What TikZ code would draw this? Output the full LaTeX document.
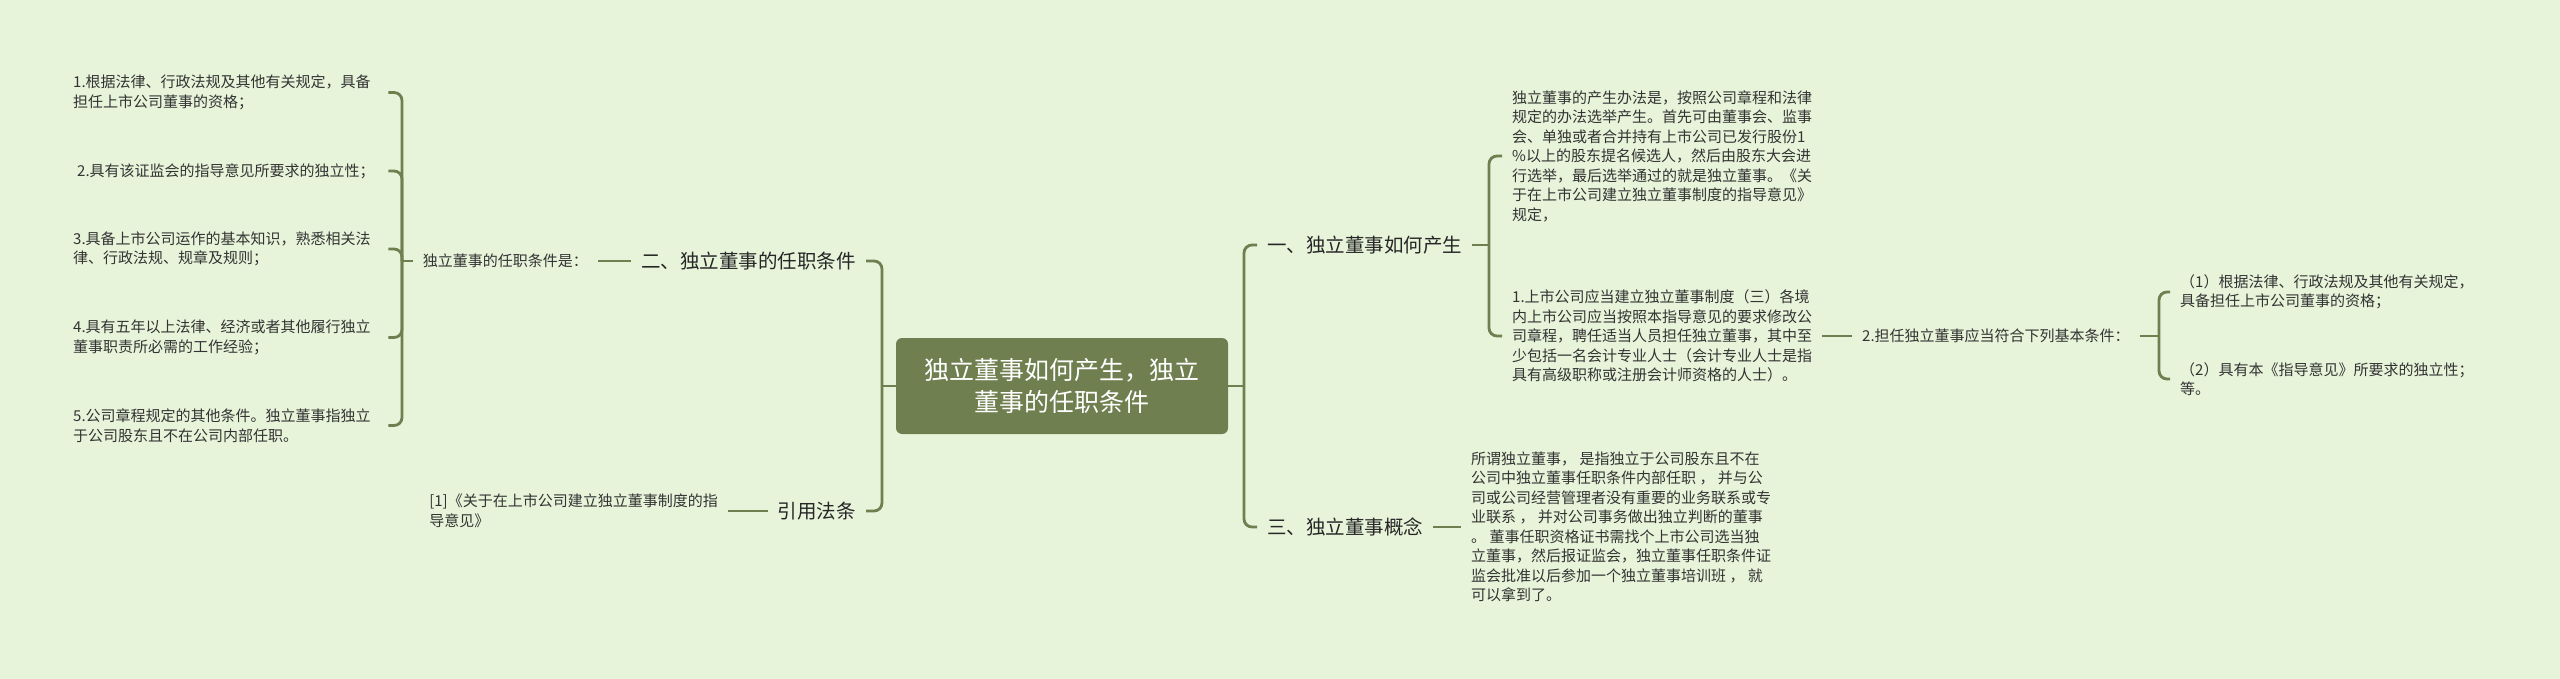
\documentclass[tikz,border=0pt]{standalone}
\usepackage{fontspec}
\usepackage{xcolor}
\usepackage{tikz}
\newfontfamily\cjk{Noto Sans CJK SC}
\definecolor{bgc}{HTML}{E7F4DA}
\definecolor{mapline}{HTML}{6F7F4F}
\definecolor{txt}{HTML}{333333}

\begin{document}
\begin{tikzpicture}[x=1pt,y=-1pt,
  link/.style={draw=mapline,line width=2.8pt,rounded corners=8pt},
  leaf/.style={font=\cjk\fontsize{15}{19.5}\selectfont,text=txt,align=left,inner xsep=10pt,inner ysep=0pt},
  sec/.style={font=\cjk\fontsize{19.5}{24}\selectfont,text=black!85,inner xsep=10pt,inner ysep=0pt},
  rootbox/.style={fill=mapline,rounded corners=6pt,text=white,font=\cjk\fontsize{25}{32}\selectfont,align=center,minimum width=332pt,minimum height=96pt}]
\fill[bgc] (0,0) rectangle (2560,679);
\useasboundingbox (0,0) rectangle (2560,679);

\node[rootbox] (root) at (1062,386) {独立董事如何产生，独立\\董事的任职条件};

\node[sec,anchor=east] (sec2) at (866,261) {二、独立董事的任职条件};
\node[sec,anchor=east] (sec4) at (866,511) {引用法条};
\node[sec,anchor=west] (sec1) at (1257,245) {一、独立董事如何产生};
\node[sec,anchor=west] (sec3) at (1257,527) {三、独立董事概念};
\coordinate (lspine) at (882,386);
\coordinate (rspine) at (1244,386);
\draw[link] (sec2.east) -| (lspine) |- (sec4.east);
\draw[link] (root.west) -- (lspine);
\draw[link] (sec1.west) -| (rspine) |- (sec3.west);
\draw[link] (root.east) -- (rspine);

\node[leaf,anchor=east] (cond) at (598,261) {独立董事的任职条件是：};
\draw[link] (sec2.west) -- (cond.east);
\node[leaf,text width=305pt,anchor=west] (req1) at (63,92.5) {1.根据法律、行政法规及其他有关规定，具备\\担任上市公司董事的资格；};
\node[leaf,text width=305pt,anchor=west] (req2) at (63,171) {\hspace{4pt}2.具有该证监会的指导意见所要求的独立性；};
\node[leaf,text width=305pt,anchor=west] (req3) at (63,249) {3.具备上市公司运作的基本知识，熟悉相关法\\律、行政法规、规章及规则；};
\node[leaf,text width=305pt,anchor=west] (req4) at (63,337.5) {4.具有五年以上法律、经济或者其他履行独立\\董事职责所必需的工作经验；};
\node[leaf,text width=305pt,anchor=west] (req5) at (63,425.5) {5.公司章程规定的其他条件。独立董事指独立\\于公司股东且不在公司内部任职。};
\coordinate (lbrace) at (402,261);
\draw[link] (req1.east) -| (lbrace) |- (req5.east);
\draw[link] (req2.east) -| (lbrace);
\draw[link] (req3.east) -| (lbrace);
\draw[link] (req4.east) -| (lbrace);
\draw[link] (cond.west) -- (lbrace);

\node[leaf,anchor=east] (cite) at (728,511) {[1]《关于在上市公司建立独立董事制度的指\\导意见》};
\draw[link] (sec4.west) -- (cite.east);

\node[leaf,anchor=west] (way) at (1502,156) {独立董事的产生办法是，按照公司章程和法律\\规定的办法选举产生。首先可由董事会、监事\\会、单独或者合并持有上市公司已发行股份1\\\%以上的股东提名候选人，然后由股东大会进\\行选举，最后选举通过的就是独立董事。《关\\于在上市公司建立独立董事制度的指导意见》\\规定，};
\node[leaf,anchor=west] (rule) at (1502,336) {1.上市公司应当建立独立董事制度（三）各境\\内上市公司应当按照本指导意见的要求修改公\\司章程，聘任适当人员担任独立董事，其中至\\少包括一名会计专业人士（会计专业人士是指\\具有高级职称或注册会计师资格的人士）。};
\coordinate (rbrace) at (1489,245);
\draw[link] (way.west) -| (rbrace) |- (rule.west);
\draw[link] (sec1.east) -- (rbrace);

\node[leaf,anchor=west] (basic) at (1852,336) {2.担任独立董事应当符合下列基本条件：};
\draw[link] (rule.east) -- (basic.west);
\node[leaf,anchor=west] (sub1) at (2170,292) {（1）根据法律、行政法规及其他有关规定，\\具备担任上市公司董事的资格；};
\node[leaf,anchor=west] (sub2) at (2170,379) {（2）具有本《指导意见》所要求的独立性；\\等。};
\coordinate (sbrace) at (2159,336);
\draw[link] (sub1.west) -| (sbrace) |- (sub2.west);
\draw[link] (basic.east) -- (sbrace);

\node[leaf,anchor=west] (idea) at (1461,527) {所谓独立董事， 是指独立于公司股东且不在\\公司中独立董事任职条件内部任职 ， 并与公\\司或公司经营管理者没有重要的业务联系或专\\业联系 ， 并对公司事务做出独立判断的董事\\。 董事任职资格证书需找个上市公司选当独\\立董事，然后报证监会，独立董事任职条件证\\监会批准以后参加一个独立董事培训班 ， 就\\可以拿到了。};
\draw[link] (sec3.east) -- (idea.west);
\end{tikzpicture}
\end{document}
